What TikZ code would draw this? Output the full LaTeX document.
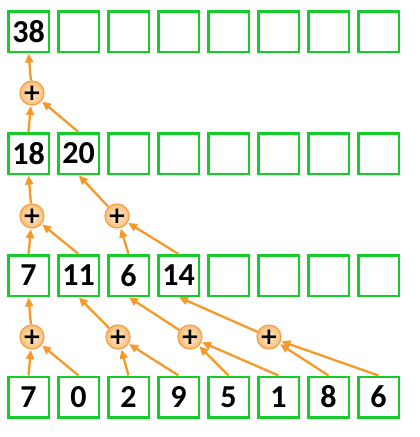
\documentclass[tikz,border=0pt]{standalone}
\usepackage{fontspec}
\setmainfont{Carlito}
\newfontfamily\plusfont{DejaVu Sans}
\usetikzlibrary{arrows.meta}
\definecolor{boxgreen}{RGB}{20,205,40}
\definecolor{arrorange}{RGB}{247,152,40}
\definecolor{plusedge}{RGB}{240,160,70}
\definecolor{plusin}{RGB}{255,236,212}
\definecolor{plusout}{RGB}{250,190,120}
\begin{document}
\begin{tikzpicture}[x=1pt,y=-1pt,
 cell/.style={draw=boxgreen,line width=2.5pt,minimum size=40.5pt,inner sep=0pt,
   font=\fontsize{32}{32}\selectfont\bfseries},
 plus/.style={circle,draw=plusedge,line width=1.2pt,minimum size=22pt,inner sep=0pt,
   inner color=plusin,outer color=plusout,font=\plusfont\fontsize{23}{23}\selectfont\bfseries},
 arr/.style={draw=arrorange,line width=2.3pt,-{Triangle[length=9pt,width=8pt]},shorten >=0.5pt}]
\useasboundingbox (0,0) rectangle (420,437);
% cells
\foreach \t [count=\c from 0] in {38,{},{},{},{},{},{},{}}
  \node[cell] (r0c\c) at ({28.5+50*\c},31.5) {\t};
\foreach \t [count=\c from 0] in {18,20,{},{},{},{},{},{}}
  \node[cell] (r1c\c) at ({28.5+50*\c},153.5) {\t};
\foreach \t [count=\c from 0] in {7,11,6,14,{},{},{},{}}
  \node[cell] (r2c\c) at ({28.5+50*\c},275.5) {\t};
\foreach \t [count=\c from 0] in {7,0,2,9,5,1,8,6}
  \node[cell] (r3c\c) at ({28.5+50*\c},397) {\t};
% adders
\node[plus] (p3a) at (32,337) {+};
\node[plus] (p3b) at (118,337) {+};
\node[plus] (p3c) at (190,337) {+};
\node[plus] (p3d) at (269,337) {+};
\node[plus] (p2a) at (32,216) {+};
\node[plus] (p2b) at (117,216) {+};
\node[plus] (p1a) at (32,93) {+};
% level 3
\draw[arr] (r3c0.north) -- (p3a);
\draw[arr] (r3c1.north) -- (p3a);
\draw[arr] (r3c2.north) -- (p3b);
\draw[arr] (r3c3.north) -- (p3b);
\draw[arr] (r3c4.north) -- (p3c);
\draw[arr] (r3c5.north) -- (p3c);
\draw[arr] (r3c6.north) -- (p3d);
\draw[arr] (r3c7.north) -- (p3d);
\draw[arr] (p3a) -- (r2c0.south);
\draw[arr] (p3b) -- (r2c1.south);
\draw[arr] (p3c) -- (r2c2.south);
\draw[arr] (p3d) -- (r2c3.south);
% level 2
\draw[arr] (r2c0.north) -- (p2a);
\draw[arr] (r2c1.north) -- (p2a);
\draw[arr] (r2c2.north) -- (p2b);
\draw[arr] (r2c3.north) -- (p2b);
\draw[arr] (p2a) -- (r1c0.south);
\draw[arr] (p2b) -- (r1c1.south);
% level 1
\draw[arr] (r1c0.north) -- (p1a);
\draw[arr] (r1c1.north) -- (p1a);
\draw[arr] (p1a) -- (r0c0.south);
\end{tikzpicture}
\end{document}
